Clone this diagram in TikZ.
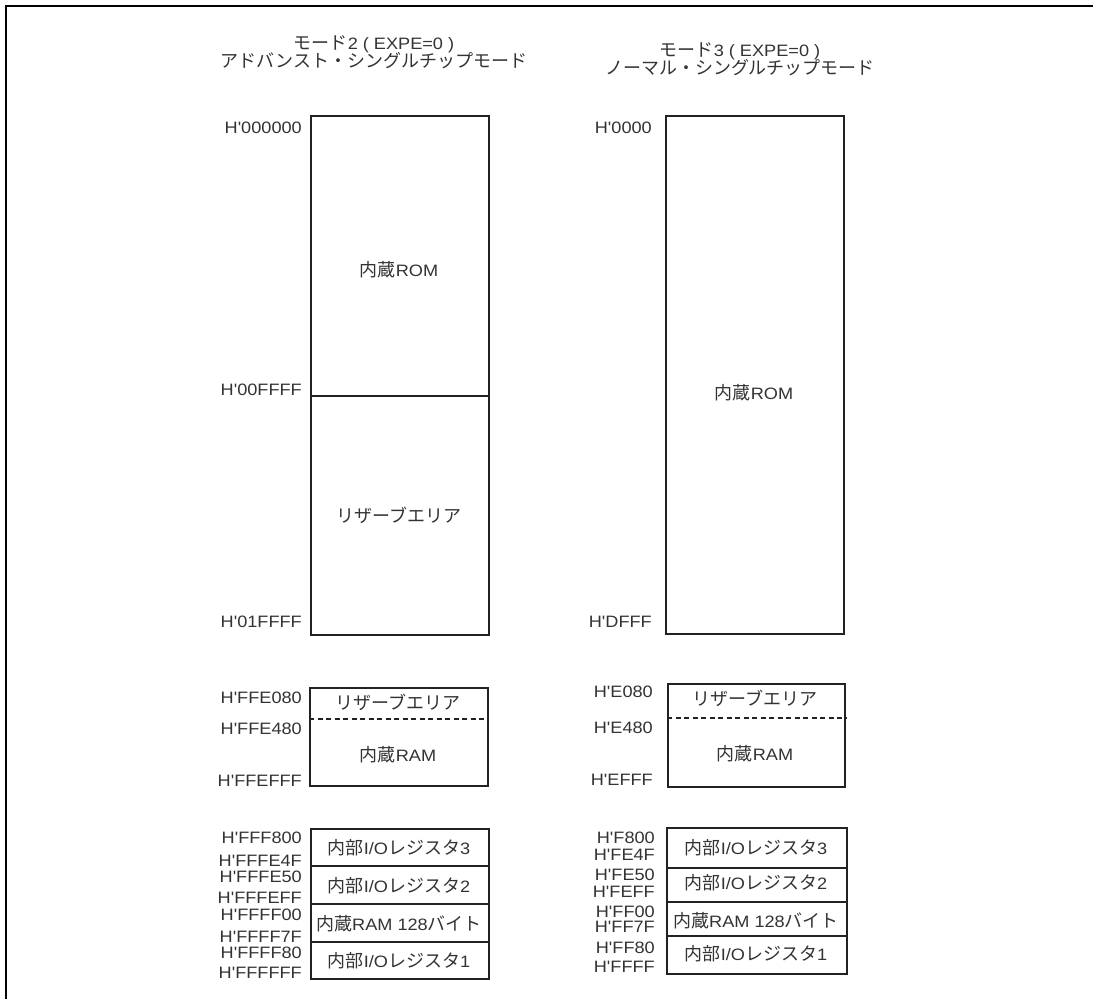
\documentclass[tikz,border=0pt]{standalone}
\usepackage{fontspec}
\newfontfamily\lat{Liberation Sans}[FakeStretch=1.1]
\newfontfamily\jp{Noto Sans CJK JP}[Scale=1.09]
\definecolor{ln}{HTML}{222222}
\definecolor{txt}{HTML}{333333}
\begin{document}
\begin{tikzpicture}[x=1pt,y=-1pt,
  every node/.style={font=\lat\fontsize{16.5pt}{19pt}\selectfont, text=txt, inner sep=0pt},
  lbl/.style={anchor=base east},
  ttl/.style={anchor=base},
  box/.style={draw=ln, line width=1.9pt, rectangle, anchor=north west},
  cell/.style={anchor=center},
  sep/.style={draw=ln, line width=1.9pt},
  dsep/.style={draw=ln, line width=1.5pt, dash pattern=on 5pt off 3.5pt},
  frame/.style={draw=black, line width=2.2pt}]
\useasboundingbox (0,0) rectangle (1093,999);
% frame
\coordinate (fb) at (6,1001);
\coordinate (fc) at (6,6);
\coordinate (fr) at (1094,6);
\draw[frame] (fb) -- (fc) -- (fr);

% titles
\node[ttl] (tl1) at (374,49) {{\jp モード}2\ (\ EXPE=0\ )};
\node[ttl] (tl2) at (374,67) {\jp アドバンスト・シングルチップモード};
\node[ttl] (tr1) at (740,56) {{\jp モード}3\ (\ EXPE=0\ )};
\node[ttl] (tr2) at (740,74) {\jp ノーマル・シングルチップモード};

% ---------- left column ----------
\node[box, minimum width=178pt, minimum height=519pt] (L1) at (310,115) {};
\coordinate (L1d) at (310,396);
\draw[sep] (L1d) -- (L1d -| L1.east);
\node[cell] (L1t1) at (399,270) {{\jp 内蔵}ROM};
\node[cell] (L1t2) at (399,515) {\jp リザーブエリア};
\node[lbl] (la1) at (302,133) {H'000000};
\node[lbl] (la2) at (302,395) {H'00FFFF};
\node[lbl] (la3) at (302,627) {H'01FFFF};

\node[box, minimum width=178pt, minimum height=98pt] (L2) at (309,687) {};
\coordinate (L2d) at (309,719);
\draw[dsep] (L2d) -- (L2d -| L2.east);
\node[cell] (L2t1) at (398,702) {\jp リザーブエリア};
\node[cell] (L2t2) at (398,755) {{\jp 内蔵}RAM};
\node[lbl] (lb1) at (302,703) {H'FFE080};
\node[lbl] (lb2) at (302,734) {H'FFE480};
\node[lbl] (lb3) at (302,786) {H'FFEFFF};

\node[box, minimum width=178pt, minimum height=150pt] (L3) at (310,828) {};
\coordinate (L3a) at (310,866);
\coordinate (L3b) at (310,904);
\coordinate (L3c) at (310,942);
\draw[sep] (L3a) -- (L3a -| L3.east);
\draw[sep] (L3b) -- (L3b -| L3.east);
\draw[sep] (L3c) -- (L3c -| L3.east);
\node[cell] (L3t1) at (399,848) {{\jp 内部}I/O{\jp レジスタ}3};
\node[cell] (L3t2) at (399,886) {{\jp 内部}I/O{\jp レジスタ}2};
\node[cell] (L3t3) at (399,924) {{\jp 内蔵}RAM 128{\jp バイト}};
\node[cell] (L3t4) at (399,961) {{\jp 内部}I/O{\jp レジスタ}1};
\node[lbl] (lc1) at (302,843) {H'FFF800};
\node[lbl] (lc2) at (302,866) {H'FFFE4F};
\node[lbl] (lc3) at (302,882) {H'FFFE50};
\node[lbl] (lc4) at (302,903) {H'FFFEFF};
\node[lbl] (lc5) at (302,920) {H'FFFF00};
\node[lbl] (lc6) at (302,942) {H'FFFF7F};
\node[lbl] (lc7) at (302,958) {H'FFFF80};
\node[lbl] (lc8) at (302,978) {H'FFFFFF};

% ---------- right column ----------
\node[box, minimum width=178pt, minimum height=518pt] (R1) at (665,115) {};
\node[cell] (R1t1) at (754,393) {{\jp 内蔵}ROM};
\node[lbl] (ra1) at (652,133) {H'0000};
\node[lbl] (ra2) at (652,627) {H'DFFF};

\node[box, minimum width=177pt, minimum height=103pt] (R2) at (667,683) {};
\coordinate (R2d) at (667,718);
\draw[dsep] (R2d) -- (R2d -| R2.east);
\node[cell] (R2t1) at (755,698) {\jp リザーブエリア};
\node[cell] (R2t2) at (755,754) {{\jp 内蔵}RAM};
\node[lbl] (rb1) at (653,697) {H'E080};
\node[lbl] (rb2) at (653,733) {H'E480};
\node[lbl] (rb3) at (653,785) {H'EFFF};

\node[box, minimum width=180pt, minimum height=146pt] (R3) at (666,827) {};
\coordinate (R3a) at (666,868);
\coordinate (R3b) at (666,902);
\coordinate (R3c) at (666,936);
\draw[sep] (R3a) -- (R3a -| R3.east);
\draw[sep] (R3b) -- (R3b -| R3.east);
\draw[sep] (R3c) -- (R3c -| R3.east);
\node[cell] (R3t1) at (756,848) {{\jp 内部}I/O{\jp レジスタ}3};
\node[cell] (R3t2) at (756,883) {{\jp 内部}I/O{\jp レジスタ}2};
\node[cell] (R3t3) at (756,921) {{\jp 内蔵}RAM 128{\jp バイト}};
\node[cell] (R3t4) at (756,954) {{\jp 内部}I/O{\jp レジスタ}1};
\node[lbl] (rc1) at (655,843) {H'F800};
\node[lbl] (rc2) at (655,860) {H'FE4F};
\node[lbl] (rc3) at (655,880) {H'FE50};
\node[lbl] (rc4) at (655,897) {H'FEFF};
\node[lbl] (rc5) at (655,917) {H'FF00};
\node[lbl] (rc6) at (655,932) {H'FF7F};
\node[lbl] (rc7) at (655,953) {H'FF80};
\node[lbl] (rc8) at (655,972) {H'FFFF};
\end{tikzpicture}
\end{document}
